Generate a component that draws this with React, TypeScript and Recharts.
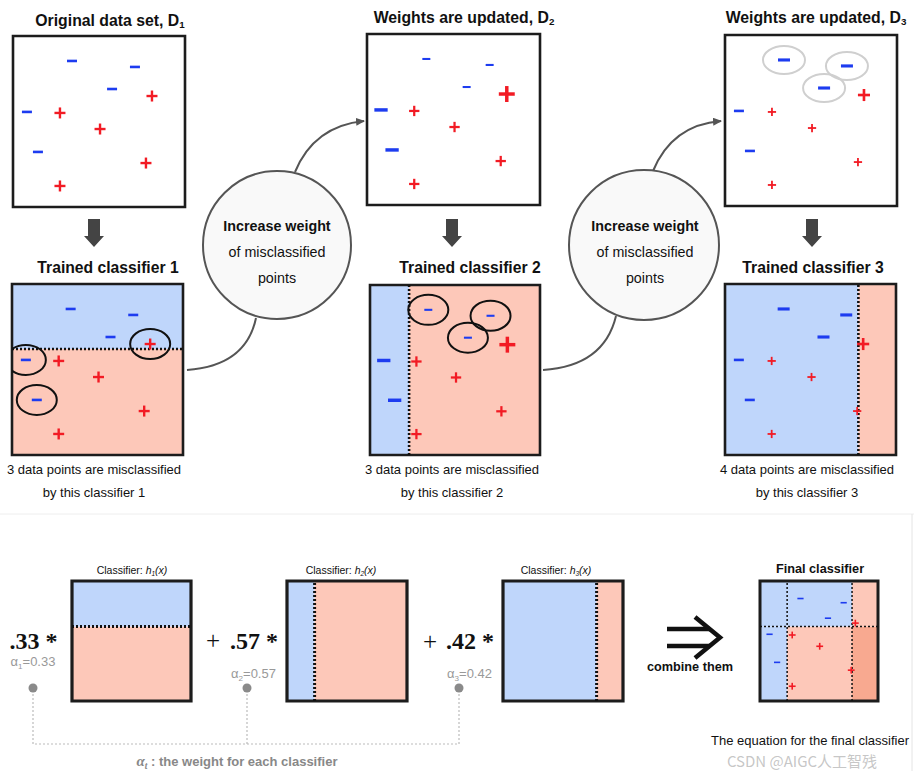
import React from 'react';
import { ScatterChart, Scatter, XAxis, YAxis, ReferenceArea, ReferenceLine } from 'recharts';

const SANS = '"Liberation Sans", Arial, Helvetica, sans-serif';
const SERIF = '"Liberation Serif", "Times New Roman", serif';

const BLUE_BG = '#bfd6fb';
const RED_BG = '#fdc8b9';
const DARK_RED_BG = '#f8a990';
const MINUS = '#1d3cf0';
const PLUS = '#f21b24';

// the ten training points, both axes run 0..10
const pointX = [3.43, 7.09, 5.76, 8.08, 0.81, 2.73, 5.06, 1.45, 7.73, 2.73];
const pointY = [8.54, 8.19, 6.9, 6.49, 5.56, 5.5, 4.56, 3.22, 2.57, 1.23];
const pointLabel = ['-', '-', '-', '+', '-', '+', '+', '-', '+', '+'];

// sample weights in each round
const weightsD1 = [1, 1, 1, 1, 1, 1, 1, 1, 1, 1];
const weightsD2 = [0.8, 0.8, 0.8, 1.45, 1.33, 0.94, 0.94, 1.33, 0.94, 0.94];
const weightsD3 = [1.2, 1.2, 1.2, 1.1, 1.0, 0.75, 0.75, 1.0, 0.75, 0.75];

// decision stumps h1..h3
const stumpAxis = ['y', 'x', 'x'];
const stumpThreshold = [6.2, 2.3, 7.8];
const stumpPositiveSide = ['below', 'above', 'above'];
const alphas = [0.33, 0.57, 0.42];
const alphaText = ['.33', '.57', '.42'];

const predict = (k: number, x: number, y: number) => {
  const v = stumpAxis[k] === 'x' ? x : y;
  const above = v > stumpThreshold[k];
  return (stumpPositiveSide[k] === 'above') === above ? 1 : -1;
};

const makePoints = (weights: number[]) =>
  pointX.map((x, i) => ({ x, y: pointY[i], label: pointLabel[i], w: weights[i] }));

const wrongIdx = (k: number) =>
  pointX
    .map((x, i) => i)
    .filter((i) => predict(k, pointX[i], pointY[i]) !== (pointLabel[i] === '+' ? 1 : -1));

const stumpRegions = (k: number) => {
  const t = stumpThreshold[k];
  const cells =
    stumpAxis[k] === 'x'
      ? [
          { x1: 0, x2: t, y1: 0, y2: 10 },
          { x1: t, x2: 10, y1: 0, y2: 10 },
        ]
      : [
          { x1: 0, x2: 10, y1: 0, y2: t },
          { x1: 0, x2: 10, y1: t, y2: 10 },
        ];
  return cells.map((c) => ({
    ...c,
    fill: predict(k, (c.x1 + c.x2) / 2, (c.y1 + c.y2) / 2) > 0 ? RED_BG : BLUE_BG,
  }));
};

const finalRegions = () => {
  const xs = [0, ...stumpAxis.map((a, k) => (a === 'x' ? stumpThreshold[k] : -1)).filter((v) => v >= 0).sort((a, b) => a - b), 10];
  const ys = [0, ...stumpAxis.map((a, k) => (a === 'y' ? stumpThreshold[k] : -1)).filter((v) => v >= 0), 10];
  const out: any[] = [];
  for (let i = 0; i < xs.length - 1; i++) {
    for (let j = 0; j < ys.length - 1; j++) {
      const cx = (xs[i] + xs[i + 1]) / 2;
      const cy = (ys[j] + ys[j + 1]) / 2;
      const score = alphas.reduce((s, a, k) => s + a * predict(k, cx, cy), 0);
      out.push({
        x1: xs[i],
        x2: xs[i + 1],
        y1: ys[j],
        y2: ys[j + 1],
        fill: score < 0 ? BLUE_BG : score > 1 ? DARK_RED_BG : RED_BG,
      });
    }
  }
  return out;
};

const markerShape = (scale: number) => (p: any) => {
  const { cx, cy, payload } = p;
  if (cx == null || cy == null) return <g />;
  const w = payload.w * scale;
  if (payload.label === '+') {
    const s = 5.5 * w;
    const t = Math.max(1.6, 2.4 * w);
    return (
      <g>
        <line x1={cx - s} x2={cx + s} y1={cy} y2={cy} stroke={PLUS} strokeWidth={t} />
        <line x1={cx} x2={cx} y1={cy - s} y2={cy + s} stroke={PLUS} strokeWidth={t} />
      </g>
    );
  }
  const s = 5 * w;
  const t = Math.max(1.6, 2.6 * w);
  return <line x1={cx - s} x2={cx + s} y1={cy} y2={cy} stroke={MINUS} strokeWidth={t} />;
};

const ringShape = (rx: number, ry: number, color: string) => (p: any) => {
  if (p.cx == null) return <g />;
  return <ellipse cx={p.cx} cy={p.cy} rx={rx} ry={ry} fill="none" stroke={color} strokeWidth={2} />;
};

type PanelProps = {
  left: number;
  top: number;
  w: number;
  h: number;
  regions?: any[];
  vSplits?: number[];
  hSplits?: number[];
  points?: any[];
  rings?: any[];
  ringColor?: string;
  ringRx?: number;
  ringRy?: number;
  frame?: number;
  splitWidth?: number;
  markerScale?: number;
};

const Panel = ({
  left,
  top,
  w,
  h,
  regions = [],
  vSplits = [],
  hSplits = [],
  points = [],
  rings = [],
  ringColor = '#111',
  ringRx = 20,
  ringRy = 15,
  frame = 2.6,
  splitWidth = 2.6,
  markerScale = 1,
}: PanelProps) => {
  const pad = 3;
  return (
    <div style={{ position: 'absolute', left: left - pad, top: top - pad }}>
      <ScatterChart width={w + pad * 2} height={h + pad * 2} margin={{ top: pad, right: pad, bottom: pad, left: pad }}>
        <XAxis type="number" dataKey="x" domain={[0, 10]} hide allowDataOverflow />
        <YAxis type="number" dataKey="y" domain={[0, 10]} hide allowDataOverflow />
        {regions.map((r, i) => (
          <ReferenceArea key={'r' + i} x1={r.x1} x2={r.x2} y1={r.y1} y2={r.y2} fill={r.fill} fillOpacity={1} stroke="none" />
        ))}
        {vSplits.map((v, i) => (
          <ReferenceLine key={'v' + i} x={v} stroke="#111" strokeWidth={splitWidth} strokeDasharray="2 2" />
        ))}
        {hSplits.map((v, i) => (
          <ReferenceLine key={'h' + i} y={v} stroke="#111" strokeWidth={splitWidth} strokeDasharray="2 2" />
        ))}
        {rings.length > 0 && (
          <Scatter data={rings} shape={ringShape(ringRx, ringRy, ringColor)} isAnimationActive={false} />
        )}
        {points.length > 0 && <Scatter data={points} shape={markerShape(markerScale)} isAnimationActive={false} />}
        <ReferenceArea x1={0} x2={10} y1={0} y2={10} fill="none" stroke="#1c1c1c" strokeWidth={frame} />
      </ScatterChart>
    </div>
  );
};

const Txt = ({
  x,
  y,
  size,
  weight = 400,
  color = '#111',
  family = SANS,
  children,
}: {
  x: number;
  y: number;
  size: number;
  weight?: number;
  color?: string;
  family?: string;
  children: any;
}) => (
  <div
    style={{
      position: 'absolute',
      left: x - 200,
      top: y - size * 0.6,
      width: 400,
      height: size * 1.2,
      lineHeight: `${size * 1.2}px`,
      textAlign: 'center',
      fontSize: size,
      fontWeight: weight,
      color,
      fontFamily: family,
      whiteSpace: 'nowrap',
    }}
  >
    {children}
  </div>
);

const Sub = ({ children }: { children: any }) => (
  <span style={{ fontSize: '0.62em', position: 'relative', top: '0.3em' }}>{children}</span>
);

const DownArrow = ({ x }: { x: number }) => (
  <path d={`M${x - 6},219 H${x + 6} V236 H${x + 10} L${x},247 L${x - 10},236 H${x - 6} Z`} fill="#444" />
);

export default function App() {
  const d1 = makePoints(weightsD1);
  const d2 = makePoints(weightsD2);
  const d3 = makePoints(weightsD3);
  const wrong = [wrongIdx(0), wrongIdx(1), wrongIdx(2)];
  const ringsFor = (pts: any[], idx: number[]) => idx.map((i) => pts[i]);
  const splitsOf = (k: number, axis: string) => (stumpAxis[k] === axis ? [stumpThreshold[k]] : []);
  const allV = stumpThreshold.filter((t, k) => stumpAxis[k] === 'x');
  const allH = stumpThreshold.filter((t, k) => stumpAxis[k] === 'y');

  const topBoxes = [
    { left: 13, top: 36, w: 172, h: 171, pts: d1 },
    { left: 367, top: 34, w: 173, h: 171, pts: d2 },
    { left: 725, top: 35, w: 172, h: 171, pts: d3 },
  ];
  const clfBoxes = [
    { left: 12, top: 284, w: 171, h: 171 },
    { left: 370, top: 285, w: 170, h: 170 },
    { left: 725, top: 284, w: 171, h: 171 },
  ];
  const hBoxes = [
    { left: 72, top: 581, w: 119, h: 120, lx: 132 },
    { left: 287, top: 581, w: 120, h: 120, lx: 341 },
    { left: 503, top: 581, w: 120, h: 120, lx: 556 },
  ];
  const misText = [94, 452, 807];
  const clfTitleX = [108, 470, 813];
  const coefX = [33.5, 254, 470];
  const alphaY = [662, 674, 674];
  const dotX = [33, 247, 459];

  return (
    <div
      style={{
        position: 'absolute',
        left: 0,
        top: 0,
        width: 914,
        height: 771,
        background: '#fff',
        overflow: 'hidden',
      }}
    >
      <svg width={914} height={771} style={{ position: 'absolute', left: 0, top: 0 }}>
        <defs>
          <marker id="ah" markerWidth="9" markerHeight="8" refX="8" refY="4" orient="auto" markerUnits="userSpaceOnUse">
            <path d="M0,0 L9,4 L0,8 z" fill="#555" />
          </marker>
        </defs>
        <line x1={0} x2={914} y1={514} y2={514} stroke="#eeeeee" strokeWidth={1} />
        <line x1={912} x2={912} y1={514} y2={771} stroke="#e4e4e4" strokeWidth={1} />
        <DownArrow x={94} />
        <DownArrow x={452} />
        <DownArrow x={812} />
        <path d="M187,370 Q246,366 256,318" fill="none" stroke="#555" strokeWidth={2} />
        <path d="M295,172 Q314,126 364,121" fill="none" stroke="#555" strokeWidth={2} markerEnd="url(#ah)" />
        <path d="M543,370 Q604,366 616,316" fill="none" stroke="#555" strokeWidth={2} />
        <path d="M653,171 Q672,125 721,121" fill="none" stroke="#555" strokeWidth={2} markerEnd="url(#ah)" />
        <circle cx={277} cy={245} r={74} fill="#f9f9f9" stroke="#555" strokeWidth={2} />
        <circle cx={644} cy={245} r={75} fill="#f9f9f9" stroke="#555" strokeWidth={2} />
        <path d={`M${dotX[0]},690 V744 H${dotX[2]} V690 M${dotX[1]},690 V744`} fill="none" stroke="#bbb" strokeWidth={1.2} strokeDasharray="2 2" />
        {dotX.map((x) => (
          <circle key={x} cx={x} cy={688} r={4.5} fill="#8a8a8a" />
        ))}
        <path d="M667,629 H710 M667,646 H710" stroke="#111" strokeWidth={4.5} fill="none" />
        <path d="M695,617 L720,637.5 L695,658" stroke="#111" strokeWidth={4.5} fill="none" />
      </svg>

      {topBoxes.map((b, i) => (
        <Panel
          key={'d' + i}
          left={b.left}
          top={b.top}
          w={b.w}
          h={b.h}
          points={b.pts}
          rings={i === 2 ? ringsFor(b.pts, wrong[1]) : []}
          ringColor="#cfcfcf"
          ringRx={21}
          ringRy={14}
        />
      ))}
      {clfBoxes.map((b, k) => (
        <Panel
          key={'c' + k}
          left={b.left}
          top={b.top}
          w={b.w}
          h={b.h}
          regions={stumpRegions(k)}
          vSplits={splitsOf(k, 'x')}
          hSplits={splitsOf(k, 'y')}
          points={topBoxes[k].pts}
          rings={k < 2 ? ringsFor(topBoxes[k].pts, wrong[k]) : []}
          ringRx={20}
          ringRy={15}
        />
      ))}
      {hBoxes.map((b, k) => (
        <Panel
          key={'h' + k}
          left={b.left}
          top={b.top}
          w={b.w}
          h={b.h}
          regions={stumpRegions(k)}
          vSplits={splitsOf(k, 'x')}
          hSplits={splitsOf(k, 'y')}
          frame={3.2}
          splitWidth={3}
        />
      ))}
      <Panel
        left={760}
        top={581}
        w={118}
        h={120}
        regions={finalRegions()}
        vSplits={allV}
        hSplits={allH}
        points={d1}
        markerScale={0.62}
        frame={3}
        splitWidth={1.5}
      />

      <Txt x={110} y={21} size={15.8} weight={700}>
        Original data set, D<Sub>1</Sub>
      </Txt>
      <Txt x={464} y={18} size={15.8} weight={700}>
        Weights are updated, D<Sub>2</Sub>
      </Txt>
      <Txt x={816} y={18} size={15.8} weight={700}>
        Weights are updated, D<Sub>3</Sub>
      </Txt>
      {clfTitleX.map((x, k) => (
        <Txt key={'ct' + k} x={x} y={268} size={15.7} weight={700}>
          Trained classifier {k + 1}
        </Txt>
      ))}
      {misText.map((x, k) => (
        <React.Fragment key={'m' + k}>
          <Txt x={x} y={470} size={13}>
            {wrong[k].length} data points are misclassified
          </Txt>
          <Txt x={x} y={493} size={13}>
            by this classifier {k + 1}
          </Txt>
        </React.Fragment>
      ))}
      {[277, 645].map((x) => (
        <React.Fragment key={'c' + x}>
          <Txt x={x} y={227} size={14.3} weight={700}>
            Increase weight
          </Txt>
          <Txt x={x} y={253} size={14.3}>
            of misclassified
          </Txt>
          <Txt x={x} y={279} size={14.3}>
            points
          </Txt>
        </React.Fragment>
      ))}

      {hBoxes.map((b, k) => (
        <Txt key={'hl' + k} x={b.lx} y={570} size={10.5}>
          Classifier:{' '}
          <i>
            h<Sub>{k + 1}</Sub>(x)
          </i>
        </Txt>
      ))}
      {alphaText.map((a, k) => (
        <React.Fragment key={'a' + k}>
          <Txt x={coefX[k]} y={641} size={24} weight={700} family={SERIF}>
            {a} *
          </Txt>
          <Txt x={coefX[k] - 0.5} y={alphaY[k]} size={13} color="#999">
            α<Sub>{k + 1}</Sub>={alphas[k].toFixed(2)}
          </Txt>
        </React.Fragment>
      ))}
      <Txt x={213} y={641} size={25} family={SERIF}>
        +
      </Txt>
      <Txt x={430} y={642} size={25} family={SERIF}>
        +
      </Txt>
      <Txt x={237} y={762} size={13} weight={700} color="#888">
        <i style={{ fontFamily: SERIF, fontSize: 15 }}>
          α<Sub>t</Sub>
        </i>{' '}
        : the weight for each classifier
      </Txt>
      <Txt x={690} y={668} size={12.7} weight={700}>
        combine them
      </Txt>
      <Txt x={820} y={570} size={12.7} weight={700}>
        Final classifier
      </Txt>
      <Txt x={810} y={741} size={13}>
        The equation for the final classifier
      </Txt>
      <Txt x={802} y={761} size={15} color="rgba(150,150,150,0.55)" family={'"Noto Sans CJK SC", "Noto Sans", sans-serif'}>
        CSDN @AIGC人工智残
      </Txt>
    </div>
  );
}
